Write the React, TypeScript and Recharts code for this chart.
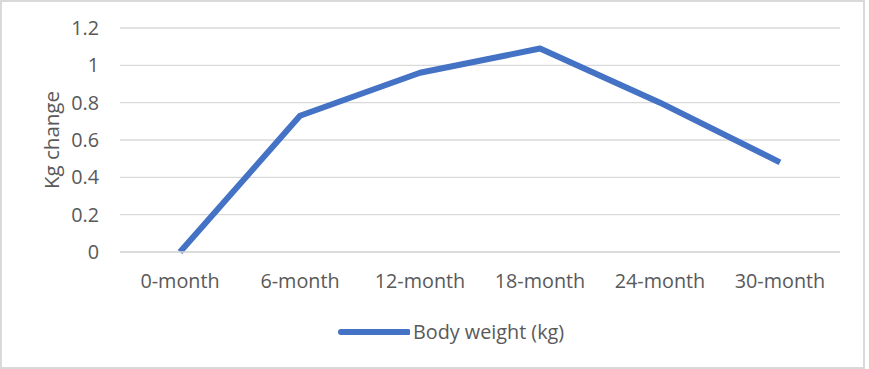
import React from 'react';
import { LineChart, Line, XAxis, YAxis, CartesianGrid, Legend } from 'recharts';

const categories = ['0-month', '6-month', '12-month', '18-month', '24-month', '30-month'];
const bodyWeight = [0, 0.73, 0.96, 1.09, 0.8, 0.48];
const yTicks = [0, 0.2, 0.4, 0.6, 0.8, 1, 1.2];

const data = categories.map((c, i) => ({ name: c, bw: bodyWeight[i] }));

const FONT = '"Open Sans", "Noto Sans", sans-serif';
const TEXT = '#595959';
const BLUE = '#4472C4';

const YLabel = (props: any) => {
  const vb = props.viewBox || { x: 0, y: 0, width: 0, height: 0 };
  const cx = vb.x + 51;
  const cy = vb.y + vb.height / 2;
  return (
    <text
      x={cx}
      y={cy}
      transform={`rotate(-90 ${cx} ${cy})`}
      textAnchor="middle"
      dominantBaseline="central"
      fill={TEXT}
      fontSize={20.5}
      fontFamily={FONT}
    >
      Kg change
    </text>
  );
};

const LegendContent = () => (
  <div style={{ display: 'flex', alignItems: 'center', fontFamily: FONT, fontSize: 19.8, color: TEXT }}>
    <svg width={72} height={10} style={{ display: 'block' }}>
      <line x1={3} y1={5} x2={70} y2={5} stroke={BLUE} strokeWidth={6} strokeLinecap="round" />
    </svg>
    <span style={{ marginLeft: 3, lineHeight: '20px' }}>Body weight (kg)</span>
  </div>
);

export default function App() {
  return (
    <div style={{ position: 'absolute', left: 0, top: 0, width: 869, height: 369, background: '#fff' }}>
      <div
        style={{
          position: 'absolute',
          left: 0,
          top: 0,
          width: 865,
          height: 369,
          border: '2px solid #d9d9d9',
          boxSizing: 'border-box',
        }}
      />
      <div style={{ position: 'absolute', left: 0, top: 0 }}>
        <LineChart width={869} height={369} data={data} margin={{ top: 28, right: 29, bottom: 0, left: 0 }}>
          <CartesianGrid vertical={false} stroke="#d9d9d9" strokeWidth={1.3} />
          <XAxis
            dataKey="name"
            axisLine={{ stroke: '#d9d9d9', strokeWidth: 1.3 }}
            tickLine={false}
            tickSize={0}
            tickMargin={22}
            height={97}
            padding={{ left: 60, right: 60 }}
            tick={{ fill: TEXT, fontSize: 19.8, fontFamily: FONT }}
            interval={0}
          />
          <YAxis
            domain={[0, 1.2]}
            ticks={yTicks}
            axisLine={false}
            tickLine={false}
            tickSize={0}
            tickMargin={21}
            width={120}
            tick={{ fill: TEXT, fontSize: 19.8, fontFamily: FONT }}
            label={<YLabel />}
          />
          <Legend
            content={<LegendContent />}
            wrapperStyle={{ position: 'absolute', top: 322, left: 338, width: 'auto', bottom: 'auto' }}
          />
          <Line
            type="linear"
            dataKey="bw"
            name="Body weight (kg)"
            stroke={BLUE}
            strokeWidth={6}
            strokeLinejoin="round"
            dot={false}
            activeDot={false}
            isAnimationActive={false}
          />
        </LineChart>
      </div>
    </div>
  );
}
